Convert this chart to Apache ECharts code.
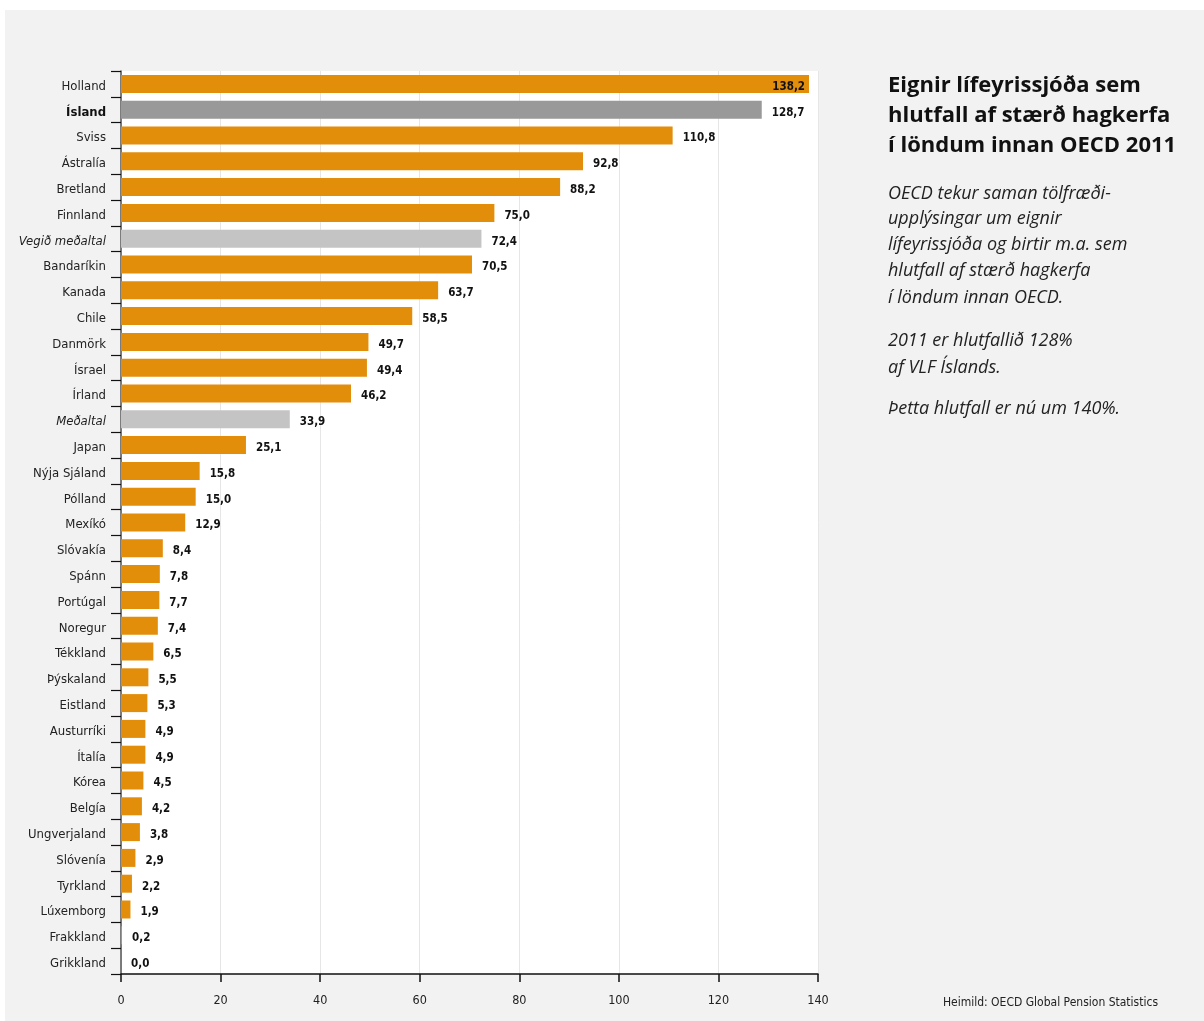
<!DOCTYPE html>
<html>
<head>
<meta charset="utf-8">
<script src="https://cdn.jsdelivr.net/npm/echarts@6/dist/echarts.min.js"></script>
<style>
html,body{margin:0;padding:0;background:#ffffff;}
#bg{position:absolute;left:5px;top:10px;width:1199px;height:1011px;background:#f2f2f2;}
#chart{position:absolute;left:0;top:0;width:1204px;height:1021px;}
</style>
</head>
<body>
<div id="bg"></div>
<div id="chart"></div>
<script>
var categories = ['Holland','Ísland','Sviss','Ástralía','Bretland','Finnland','Vegið meðaltal','Bandaríkin','Kanada','Chile','Danmörk','Ísrael','Írland','Meðaltal','Japan','Nýja Sjáland','Pólland','Mexíkó','Slóvakía','Spánn','Portúgal','Noregur','Tékkland','Þýskaland','Eistland','Austurríki','Ítalía','Kórea','Belgía','Ungverjaland','Slóvenía','Tyrkland','Lúxemborg','Frakkland','Grikkland'];
var values = [138.2,128.7,110.8,92.8,88.2,75.0,72.4,70.5,63.7,58.5,49.7,49.4,46.2,33.9,25.1,15.8,15.0,12.9,8.4,7.8,7.7,7.4,6.5,5.5,5.3,4.9,4.9,4.5,4.2,3.8,2.9,2.2,1.9,0.2,0.0];
var xTicks = [0,20,40,60,80,100,120,140];
var highlight = 'Ísland';
var averages = ['Vegið meðaltal','Meðaltal'];
var titleLines = ['Eignir lífeyrissjóða sem','hlutfall af stærð hagkerfa','í löndum innan OECD 2011'];
var noteLines = ['OECD tekur saman tölfræði-','upplýsingar um eignir','lífeyrissjóða og birtir m.a. sem','hlutfall af stærð hagkerfa','í löndum innan OECD.','2011 er hlutfallið 128%','af VLF Íslands.','Þetta hlutfall er nú um 140%.'];
var noteTops = [185,210,236,262,289,332,359,400];
var source = 'Heimild: OECD Global Pension Statistics';

var FONT = '"Liberation Sans Narrow","DejaVu Sans Condensed",sans-serif';
var chart = echarts.init(document.getElementById('chart'));

function fmt(v){ return v.toFixed(1).replace('.', ','); }

var data = values.map(function(v,i){
  var c = categories[i];
  var color = '#e38e0b';
  if (c === highlight) color = '#999999';
  else if (averages.indexOf(c) >= 0) color = '#c4c4c4';
  var item = {value: v, itemStyle: {color: color}};
  if (i === 0) item.label = {position: 'insideRight', distance: 4};
  return item;
});

var graphics = [];
titleLines.forEach(function(t,i){
  graphics.push({type:'text', left: 888, top: 75 + i*30,
    style:{text:t, fill:'#111', font:'bold 22px "Open Sans",sans-serif'}});
});
noteLines.forEach(function(t,i){
  graphics.push({type:'text', left: 888, top: noteTops[i],
    style:{text:t, fill:'#222', font:'italic 18px "Open Sans",sans-serif'}});
});
graphics.push({type:'text', right: 46, top: 997,
  style:{text:source, fill:'#222', font:'12px ' + FONT}});

chart.setOption({
  animation: false,
  textStyle: {fontFamily: FONT},
  grid: {left: 121, right: 386, top: 71, bottom: 47, show: true, backgroundColor: '#ffffff', borderWidth: 0},
  xAxis: {
    type: 'value', min: 0, max: 140, interval: 20,
    axisLine: {show: true, lineStyle: {color: '#111', width: 1.5}},
    axisTick: {show: true, length: 8, lineStyle: {color: '#111', width: 1.5}},
    axisLabel: {color: '#222', fontSize: 12.5, margin: 20, fontFamily: FONT},
    splitLine: {show: true, lineStyle: {color: '#e6e6e6', width: 1}}
  },
  yAxis: {
    type: 'category', data: categories, inverse: true,
    axisLine: {show: true, lineStyle: {color: '#555', width: 1.5}},
    axisTick: {show: true, length: 10, inside: false, lineStyle: {color: '#111', width: 1.2}},
    axisLabel: {
      margin: 15, fontSize: 13, color: '#222', fontFamily: FONT, padding: [5,0,0,0],
      formatter: function(v){
        if (v === highlight) return '{b|' + v + '}';
        if (averages.indexOf(v) >= 0) return '{i|' + v + '}';
        return v;
      },
      rich: {
        b: {fontWeight: 'bold', fontSize: 13, color: '#111', fontFamily: FONT},
        i: {fontStyle: 'italic', fontSize: 13, color: '#222', fontFamily: FONT}
      }
    }
  },
  series: [{
    type: 'bar', data: data, barWidth: 18,
    label: {show: true, position: 'right', distance: 10, color: '#111', fontWeight: 'bold', fontSize: 11.5, fontFamily: FONT,
      offset: [0, 3],
      formatter: function(p){ return fmt(p.value); }}
  }],
  graphic: graphics
});
</script>
</body>
</html>
